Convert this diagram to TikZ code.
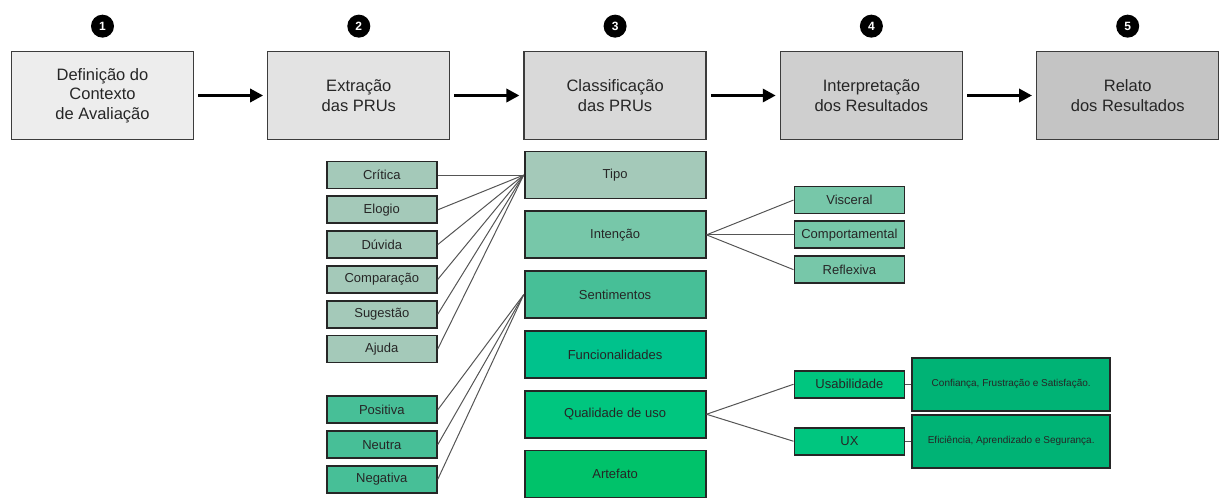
\documentclass[tikz,border=0pt]{standalone}
\usepackage{fontspec}
\setmainfont{Liberation Sans}
\usetikzlibrary{arrows.meta, positioning}
\definecolor{etapaA}{HTML}{EDEDED}
\definecolor{etapaB}{HTML}{E3E3E3}
\definecolor{etapaC}{HTML}{D9D9D9}
\definecolor{etapaD}{HTML}{CFCFCF}
\definecolor{etapaE}{HTML}{C4C4C4}
\definecolor{tipo}{HTML}{A4C9B9}
\definecolor{intencao}{HTML}{77C7A9}
\definecolor{sentim}{HTML}{47BF97}
\definecolor{funcio}{HTML}{00C28C}
\definecolor{qualid}{HTML}{00C67F}
\definecolor{artef}{HTML}{00C26A}
\definecolor{detalhe}{HTML}{00B375}
\definecolor{borda}{HTML}{262626}
\definecolor{linha}{HTML}{555555}

\begin{document}
\begin{tikzpicture}[x=1pt,y=-1pt,
  node distance=73pt,
  etapa/.style={rectangle,draw=borda!90,line width=1.3pt,minimum width=182pt,minimum height=88pt,
    align=center,font=\fontsize{16.5}{19.5}\selectfont,text=black!85},
  num/.style={circle,fill=black,text=white,minimum size=23pt,inner sep=0pt,font=\fontsize{12}{12}\selectfont\bfseries},
  cat/.style={rectangle,draw=borda,line width=1.8pt,minimum width=181pt,minimum height=47pt,
    font=\fontsize{13}{13}\selectfont,text=black!85},
  item/.style={rectangle,draw=borda,line width=1.8pt,minimum width=110pt,minimum height=27pt,inner sep=1pt,
    font=\fontsize{13}{13}\selectfont,text=black!85},
  nota/.style={rectangle,draw=borda,line width=1.8pt,minimum width=198pt,minimum height=53pt,
    font=\fontsize{10}{10}\selectfont,text=black!85},
  seta/.style={-{Triangle[length=13pt,width=13pt]},line width=3.5pt,shorten <=4pt,shorten >=4pt},
  liga/.style={draw=linha,line width=1pt}]
  \useasboundingbox (0,0) rectangle (1219,498);
  % etapas
  \node[etapa,fill=etapaA] at (102.5,95.5) (E1){Definição do\\Contexto\\de Avaliação};
  \node[etapa,fill=etapaB,right=of E1]   (E2){Extração\\das PRUs};
  \node[etapa,fill=etapaC,right=of E2]   (E3){Classificação\\das PRUs};
  \node[etapa,fill=etapaD,right=of E3]   (E4){Interpretação\\dos Resultados};
  \node[etapa,fill=etapaE,right=of E4]   (E5){Relato\\dos Resultados};
  \node[num,above=13pt of E1](N1){1};\node[num,above=13pt of E2](N2){2};
  \node[num,above=13pt of E3](N3){3};\node[num,above=13pt of E4](N4){4};
  \node[num,above=13pt of E5](N5){5};
  \draw[seta](E1)--(E2);\draw[seta](E2)--(E3);\draw[seta](E3)--(E4);\draw[seta](E4)--(E5);
  % categorias
  \node[cat,fill=tipo,below=10.5pt of E3]      (Tipo){Tipo};
  \node[cat,fill=intencao,below=11pt of Tipo]  (Int){Intenção};
  \node[cat,fill=sentim,below=11pt of Int]     (Sent){Sentimentos};
  \node[cat,fill=funcio,below=11pt of Sent]    (Func){Funcionalidades};
  \node[cat,fill=qualid,below=11pt of Func]    (Qual){Qualidade de uso};
  \node[cat,fill=artef,below=11pt of Qual]     (Art){Artefato};
  % tipos
  \node[item,fill=tipo,left=86pt of Tipo]      (Critica){Crítica};
  \node[item,fill=tipo,below=6pt of Critica]   (Elogio){Elogio};
  \node[item,fill=tipo,below=6pt of Elogio]    (Duvida){Dúvida};
  \node[item,fill=tipo,below=6pt of Duvida]    (Comp){Comparação};
  \node[item,fill=tipo,below=6pt of Comp]      (Sug){Sugestão};
  \node[item,fill=tipo,below=6pt of Sug]       (Ajuda){Ajuda};
  \node[item,fill=sentim,below=32pt of Ajuda]  (Pos){Positiva};
  \node[item,fill=sentim,below=6pt of Pos]     (Neu){Neutra};
  \node[item,fill=sentim,below=6pt of Neu]     (Neg){Negativa};
  % intencao e qualidade
  \node[item,fill=intencao,right=87pt of Int]  (Comport){Comportamental};
  \node[item,fill=intencao,above=6pt of Comport](Visc){Visceral};
  \node[item,fill=intencao,below=6pt of Comport](Refl){Reflexiva};
  \node[item,fill=qualid,right=87pt of Qual,yshift=30pt]  (Usab){Usabilidade};
  \node[item,fill=qualid,right=87pt of Qual,yshift=-27pt] (UX){UX};
  \node[nota,fill=detalhe,right=6pt of Usab]   (Conf){Confiança, Frustração e Satisfação.};
  \node[nota,fill=detalhe,right=6pt of UX]     (Efic){Eficiência, Aprendizado e Segurança.};
  % ligacoes
  \draw[liga](Critica.east)--(Tipo.west);\draw[liga](Elogio.east)--(Tipo.west);
  \draw[liga](Duvida.east)--(Tipo.west);\draw[liga](Comp.east)--(Tipo.west);
  \draw[liga](Sug.east)--(Tipo.west);\draw[liga](Ajuda.east)--(Tipo.west);
  \draw[liga](Pos.east)--(Sent.west);\draw[liga](Neu.east)--(Sent.west);\draw[liga](Neg.east)--(Sent.west);
  \draw[liga](Int.east)--(Visc.west);\draw[liga](Int.east)--(Comport.west);\draw[liga](Int.east)--(Refl.west);
  \draw[liga](Qual.east)--(Usab.west);\draw[liga](Qual.east)--(UX.west);
  \draw[liga](Usab)--(Conf);\draw[liga](UX)--(Efic);
\end{tikzpicture}
\end{document}
